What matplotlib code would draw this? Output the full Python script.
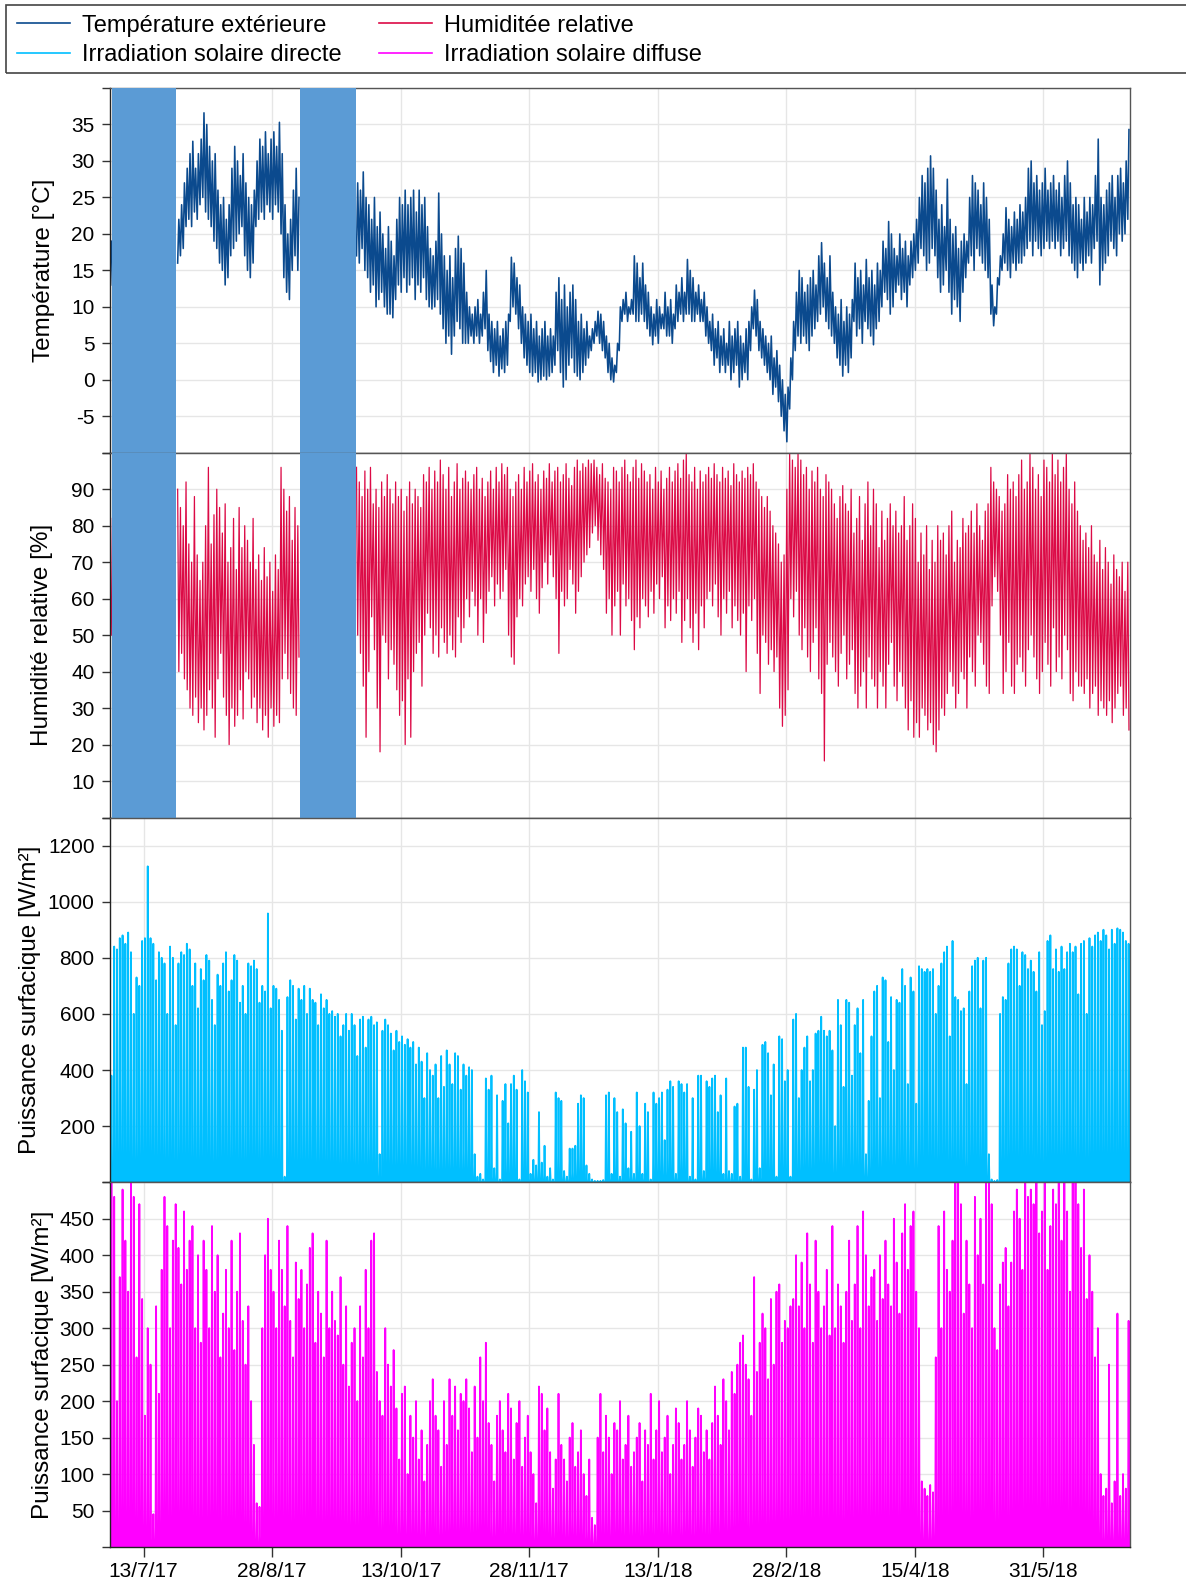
import numpy as np
import matplotlib
matplotlib.use("Agg")
import matplotlib.pyplot as plt
import matplotlib.dates as mdates
from matplotlib.patches import Rectangle
from datetime import datetime

# ---------------- DATA ----------------
start_date = "2017-07-01"
n_days = 365

tick_dates = ["2017-07-13", "2017-08-28", "2017-10-13", "2017-11-28",
              "2018-01-13", "2018-02-28", "2018-04-15", "2018-05-31"]
tick_labels = ["13/7/17", "28/8/17", "13/10/17", "28/11/17",
               "13/1/18", "28/2/18", "15/4/18", "31/5/18"]

# missing-data periods (shaded), in days since start_date
gap_start = [0.55, 68.0]
gap_end = [23.6, 88.0]

# Temperature [°C] : daily min / max, by segment (start day)
temp_seg_start = [0, 24, 88]
temp_max = [
    [19],
    [22, 24, 27, 29, 31, 32.7, 29, 31, 33, 36.6, 35, 32, 30, 31, 26, 24, 25, 22, 24, 29,
     32, 30, 28, 31, 27, 25, 24, 26, 30, 33, 32, 34, 31, 33, 34, 32, 35.3, 31, 24, 20,
     22, 26, 29, 25],
    [27, 26, 28.5, 25, 24, 22, 25, 21, 23, 20,
     18, 21, 19, 17, 22, 25, 24, 26, 24, 25,
     26, 23, 26, 24, 25, 21, 18, 17, 19, 25.6,
     20, 17, 15, 17, 14, 18, 19.7, 18, 16, 12,
     10, 9, 10, 11, 9, 12, 15, 9, 8, 7,
     8, 6, 7, 8, 9, 16.8, 16, 14, 13, 10,
     9, 8, 9, 7, 8, 6, 7, 8, 6, 7,
     6, 12, 14, 11, 13, 10, 12, 13, 11, 8,
     9, 7, 8, 6, 7, 8, 9.4, 9, 8, 6,
     5, 3, 2, 5, 10, 11, 12, 10, 11, 17,
     16, 14, 16, 13, 12, 10, 9, 11, 10, 9,
     12, 10, 11, 9, 13, 12, 14, 12, 16.5, 15,
     14, 12, 13, 11, 12, 10, 8, 9, 7, 8,
     6, 7, 5, 8, 6, 7, 8, 6, 5, 7,
     8, 10, 12.3, 11, 8, 7, 6, 5, 6, 3,
     4, 2, 0, -2, -1, 3, 8, 12, 15, 14,
     12, 13, 14, 15, 13, 17, 18.8, 16, 14, 17,
     12, 10, 9, 11, 8, 10, 9, 11, 16, 14,
     15, 13, 16.5, 14, 15, 13, 16, 15, 19, 18,
     21.7, 20, 18, 17, 20, 18, 19, 17, 19, 20,
     22, 25, 28, 27, 29, 30.7, 29, 26, 22, 24,
     21, 27.5, 22, 20, 21, 18, 19, 20, 19, 25,
     28, 27, 26, 24, 27, 25, 22, 13, 10, 14,
     17, 20, 23.6, 22, 21, 23, 22, 24, 23, 25,
     29, 30, 27, 28, 26, 27, 29, 26, 27, 28,
     26, 27, 25, 28, 30, 27, 24, 25, 24, 22,
     25, 23, 25, 24, 28, 33, 25, 24, 26, 27,
     28, 25, 28, 29, 27, 30, 34.3],
]
temp_min = [
    [13],
    [16, 17, 18, 21, 22, 21, 23, 22, 24, 25, 23, 22, 21, 19, 18, 16, 15, 13, 14, 17,
     18, 19, 20, 21, 17, 15, 14, 16, 21, 22, 23, 22, 24, 23, 22, 24, 23, 20, 14, 12,
     11, 15, 17, 15],
    [17, 16, 18, 15, 14, 12, 13, 10, 11, 12,
     10, 9, 9, 8.5, 11, 13, 12, 14, 12, 13,
     14, 11, 13, 12, 14, 11, 10, 9.7, 10, 11,
     9, 7, 5, 6, 3.5, 6, 8, 7, 5, 5,
     5, 6, 5, 6, 5, 6, 7, 4, 2.5, 1,
     2, 0.5, 1.5, 1, 2, 8, 10, 9, 7, 5,
     3, 2, 1, 0.5, 1, -0.3, 0, 0.5, 0, 0.5,
     1, 2, 4, 1, -1, 0, 2, 3, 1, 0.5,
     0, 1, 2, 3, 4, 5, 6, 5, 4, 3,
     1, 0, -0.3, 1, 4, 8, 9, 8, 9, 9,
     8, 8, 9, 8, 7, 6, 4.8, 6, 5, 7,
     7, 6, 6, 5, 7, 8, 9, 8, 9, 9,
     8, 8, 9, 8, 8, 6, 5, 4, 2, 3,
     1, 2, 1, 2, 0, 1, 2, -1, 0, 1,
     0, 4, 7, 6, 4, 3, 2, 1, 0, -2,
     -1, -3, -5, -7, -8.5, -4, 0, 4, 6, 5,
     6, 5, 4, 6, 7, 8, 9, 10, 8, 7,
     6, 5, 3, 2, 0.5, 2, 1, 3, 8, 6,
     7, 5, 8, 7, 6, 4.8, 7, 8, 10, 12,
     11, 9, 10, 12, 13, 11, 12, 10, 13, 14,
     15, 16, 18, 17, 15, 16, 18, 17, 14, 12,
     13, 15, 12, 9, 11, 10, 8, 12, 14, 16,
     17, 15, 18, 17, 16, 15, 14, 9, 7.4, 9,
     13, 15, 16, 15, 14, 16, 15, 16, 16, 17,
     18, 19, 17, 19, 18, 17, 18, 19, 18, 19,
     18, 19, 17, 18, 19, 17, 16, 15, 14, 16,
     15, 16, 17, 16, 18, 19, 13, 15, 16, 17,
     19, 18, 17, 20, 19, 20, 22],
]

# Relative humidity [%] : daily max / min, by segment
rh_seg_start = [0, 24, 88]
rh_max = [
    [82],
    [90, 85, 80, 92, 75, 70, 88, 72, 65, 70, 80, 96, 75, 83, 90, 85, 78, 86, 70, 74,
     82, 68, 85, 74, 80, 76, 70, 82, 68, 72, 65, 74, 66, 70, 62, 72, 68, 96, 90, 84,
     88, 76, 85, 80],
    [96, 92, 88, 95, 90, 96, 86, 90, 85, 92,
     88, 94, 90, 86, 92, 88, 90, 84, 88, 92,
     86, 90, 88, 85, 94, 92, 96, 90, 95, 92,
     98, 94, 90, 96, 88, 92, 97, 90, 93, 95,
     92, 90, 94, 96, 90, 93, 88, 92, 95, 90,
     96, 92, 97, 94, 96, 90, 88, 92, 94, 90,
     96, 92, 95, 97, 92, 94, 90, 95, 93, 97,
     92, 95, 96, 92, 94, 97, 93, 91, 96, 98,
     95, 97, 96, 98, 97, 98, 96, 94, 97, 93,
     92, 90, 96, 95, 92, 96, 98, 94, 92, 96,
     98, 93, 97, 95, 92, 94, 90, 96, 92, 95,
     90, 93, 96, 92, 95, 97, 93, 98, 100, 94,
     92, 96, 90, 95, 92, 94, 96, 93, 97, 94,
     92, 96, 93, 95, 91, 97, 94, 92, 95, 93,
     96, 94, 97, 92, 90, 88, 85, 88, 84, 80,
     78, 75, 70, 72, 90, 100, 98, 96, 100, 98,
     94, 96, 90, 95, 92, 96, 90, 88, 94, 92,
     90, 86, 82, 88, 91, 86, 84, 90, 78, 82,
     88, 76, 86, 92, 80, 90, 86, 74, 84, 76,
     82, 86, 80, 84, 78, 80, 88, 76, 80, 86,
     82, 70, 78, 72, 80, 68, 76, 70, 80, 76,
     78, 72, 80, 84, 70, 76, 74, 82, 78, 80,
     84, 78, 86, 80, 76, 84, 86, 96, 92, 90,
     88, 84, 86, 94, 90, 92, 88, 94, 98, 90,
     92, 100, 96, 90, 94, 88, 98, 96, 92, 100,
     94, 98, 92, 96, 100, 90, 86, 92, 84, 80,
     76, 78, 74, 80, 72, 70, 76, 68, 74, 70,
     64, 72, 68, 66, 70, 62, 70],
]
rh_min = [
    [50],
    [40, 45, 38, 35, 30, 28, 33, 26, 30, 24, 28, 35, 30, 22, 38, 45, 33, 28, 20, 30,
     25, 28, 35, 27, 40, 38, 30, 33, 26, 30, 24, 28, 22, 30, 25, 28, 26, 38, 45, 38,
     34, 30, 28, 44],
    [50, 45, 36, 22, 40, 55, 46, 30, 18, 50,
     48, 38, 46, 42, 35, 28, 32, 20, 38, 22,
     40, 45, 48, 36, 50, 56, 52, 45, 50, 44,
     52, 48, 45, 50, 46, 44, 55, 48, 52, 60,
     55, 62, 58, 50, 60, 48, 56, 62, 66, 58,
     64, 60, 62, 68, 50, 44, 42, 55, 60, 58,
     64, 66, 62, 68, 60, 56, 63, 70, 64, 72,
     66, 60, 45, 62, 58, 60, 68, 64, 56, 62,
     66, 70, 72, 74, 78, 80, 76, 72, 68, 56,
     60, 50, 58, 62, 50, 64, 58, 60, 54, 46,
     55, 52, 60, 58, 55, 62, 56, 64, 60, 66,
     52, 58, 54, 60, 56, 62, 48, 54, 60, 52,
     48, 56, 46, 58, 52, 60, 62, 58, 64, 55,
     50, 60, 56, 62, 52, 58, 54, 50, 56, 40,
     58, 54, 60, 45, 34, 50, 48, 42, 46, 40,
     44, 30, 25, 28, 35, 60, 55, 62, 50, 46,
     52, 44, 40, 48, 52, 38, 34, 15.5, 42, 48,
     44, 40, 36, 45, 50, 38, 42, 46, 34, 30,
     36, 40, 30, 44, 38, 36, 30, 40, 36, 30,
     42, 48, 36, 32, 40, 36, 30, 24, 32, 22,
     26, 22, 30, 28, 24, 26, 20, 18, 24, 30,
     28, 34, 40, 36, 30, 34, 40, 38, 30, 44,
     40, 36, 50, 48, 42, 36, 34, 58, 66, 62,
     50, 34, 40, 48, 36, 34, 42, 44, 40, 36,
     46, 50, 44, 38, 34, 40, 48, 42, 36, 52,
     40, 44, 38, 50, 46, 34, 32, 40, 36, 36,
     34, 38, 30, 34, 36, 28, 32, 30, 28, 32,
     26, 30, 34, 36, 28, 30, 24],
]

# Direct solar irradiation : daily peak [W/m²], day 0 .. 364
direct_peak = [
    380, 840, 830, 870, 880, 850, 890, 820, 600, 730, 700, 860, 870, 1126,
    870, 850, 720, 820, 800, 780, 600, 840, 800, 560, 780, 820, 810, 850, 830, 700,
    780, 620, 760, 720, 810, 790, 650, 560, 740, 700, 780, 820, 680, 720, 810, 790,
    640, 700, 600, 780, 770, 790, 760, 640, 700, 680, 958,
    620, 700, 690, 650, 540,
    20,
    660, 720, 700, 580, 690, 650, 700, 600, 690, 650, 640, 560, 670, 620, 650, 600, 610, 590,
    600, 520, 560, 600, 540, 600, 560, 450, 580, 590, 480, 580, 590, 560, 570, 100,
    540, 580, 560, 530, 470, 540, 500, 520,
    490, 510, 480, 500, 420, 480, 430, 300, 460, 400, 380, 420, 300,
    450, 340, 470, 420, 350, 460, 450, 330, 420, 380, 410, 400, 100, 20, 30, 10,
    370, 330, 380, 50, 310, 10, 290, 350, 210, 350, 380, 330, 10, 400, 360, 320, 30,
    80, 60, 250, 70, 130, 20, 50, 10,
    320, 300, 290, 40, 20, 120, 120, 130, 280, 310, 300,
    60, 30, 10, 5, 5, 5, 8,
    310, 320, 30, 300, 250, 20, 260, 210, 50, 180, 30, 320, 200, 30, 280, 250, 10, 320,
    280, 300, 320, 150, 330, 360, 340, 30, 360, 350, 320, 350, 20, 300, 10, 380, 380,
    40, 360, 340, 370, 380, 250, 310, 30, 370, 40,
    30, 270, 280, 20, 480, 480, 340, 10, 330, 400, 50, 490, 500, 460, 310, 420, 20,
    520, 510, 360, 400, 20,
    580, 600, 300, 400, 480, 520, 360, 400, 530, 540, 590, 540,
    520, 540, 470, 200, 650, 560, 340, 650, 640, 380, 560, 620, 460, 650,
    100, 290, 520, 680, 700, 300, 730, 720, 500, 660, 400, 650, 640, 760, 700, 350, 730, 680,
    280, 770, 760, 750, 760, 750, 760, 600, 700, 780, 820, 840, 520, 860, 660, 650, 610,
    620, 350, 680, 770, 790, 800, 620, 790, 800, 100, 10, 5,
    8, 600, 660, 650, 780, 830, 840, 830, 700, 820, 810, 760, 790, 750, 680, 820, 560, 610, 860,
    880, 760, 830, 750, 840, 760, 820, 850, 820, 840, 670, 850, 860, 600, 870, 840, 880,
    890, 860, 900, 880, 830, 900, 850, 905, 900, 890, 860, 850,
]

# Diffuse solar irradiation : daily peak [W/m²], day 0 .. 364
diffuse_peak = [
    499, 480, 200, 370, 490, 420, 350, 500, 480, 260, 470,
    340, 180, 300, 250, 45, 330, 210,
    380, 480, 440, 300, 420, 470, 410, 360, 460, 380, 420, 440, 300, 400, 280,
    420, 380, 300, 440, 350, 400, 260, 320, 380, 300, 420, 270, 350, 430, 310, 250, 330, 200, 140,
    60, 55,
    300, 400, 450, 380, 350, 300, 420, 380, 330, 440, 310, 260, 390, 340, 380, 300, 360,
    410, 430, 280, 350, 320, 260, 420, 300, 350,
    310, 290, 370, 250, 330, 220, 280, 300, 200, 330, 260, 380, 300, 420, 430, 240, 200,
    180, 300, 250, 220,
    270, 190, 120, 210, 220, 100, 180, 150, 200, 120, 160, 90, 140, 200, 230, 180, 160,
    110, 200, 140, 230,
    180, 220, 160, 210, 200, 230, 190, 130, 220, 150, 260, 200, 280, 170, 140, 90, 180,
    200, 160, 130, 210, 190, 120, 170, 200, 110, 150, 180, 130, 100, 60, 220, 210, 160,
    190, 130, 80, 120, 210, 140, 120, 90, 150, 170, 110, 130, 160, 100, 70, 120,
    40, 30, 150, 210, 130, 180, 150, 100, 170, 160, 200, 120, 140, 180, 110, 130, 150,
    170, 90, 160, 140, 210, 120, 160, 200, 130, 150, 180, 100, 140, 190, 170, 120, 140,
    200, 160, 110, 150, 190, 180, 130, 160,
    120, 170, 220, 180, 140, 230, 200, 160, 240, 210, 250, 280,
    290, 250, 230, 180, 370, 240, 280, 320, 300, 230, 340, 250, 350, 360, 280, 310, 300, 330,
    340, 400, 330, 390, 300, 430, 360, 280, 420, 350, 300, 330, 380, 290, 440, 300, 360,
    330, 280, 350,
    420, 310, 360, 440, 300, 460, 400, 330, 370, 380, 310, 400, 340, 420, 360, 330, 450,
    390, 320, 430, 470, 380, 440, 460, 350, 300,
    90, 80, 70, 85, 75,
    260, 440, 300, 460, 380, 350, 420, 500, 500, 470, 320, 420, 360, 300, 480, 400, 450,
    360, 500, 500, 470, 300, 270, 360, 390, 410, 330, 390, 460,
    490, 450, 380, 500, 480, 490, 470, 500, 430, 460, 500, 380, 440, 490, 470, 500, 420,
    500, 460, 350, 500, 500, 470, 410, 490, 340, 400, 350, 260,
    300, 100, 70, 80, 250, 60, 90, 320, 70, 100, 80, 310,
]

legend_labels = ["Température extérieure", "Irradiation solaire directe",
                 "Humiditée relative", "Irradiation solaire diffuse"]
ylabels = ["Température [°C]", "Humidité relative [%]",
           "Puissance surfacique [W/m²]", "Puissance surfacique [W/m²]"]

# ---------------- STYLE ----------------
C_TEMP = "#0B4A8E"
C_RH = "#DC0A46"
C_DIR = "#00BFFF"
C_DIF = "#FF00FF"
C_GAP = "#5B9BD5"
C_GRID = "#E6E6E6"

plt.rcParams["font.family"] = ["Liberation Sans", "DejaVu Sans"]

W, H = 1186, 1584
fig = plt.figure(figsize=(W / 100, H / 100), dpi=100)

x0 = mdates.date2num(datetime.strptime(start_date, "%Y-%m-%d"))
left_px, right_px, top_px, bot_px = 110, 1130, 88, 1547
ph = (bot_px - top_px) / 4.0

axes = []
for i in range(4):
    y_top = top_px + i * ph
    ax = fig.add_axes([left_px / W, 1 - (y_top + ph) / H, (right_px - left_px) / W, ph / H])
    axes.append(ax)


def daily_pair_path(seg_start, first_vals, second_vals, t1, t2):
    days = seg_start + np.arange(len(first_vals))
    xs = np.empty(2 * len(days))
    ys = np.empty(2 * len(days))
    xs[0::2] = days + t1
    xs[1::2] = days + t2
    ys[0::2] = first_vals
    ys[1::2] = second_vals
    return x0 + xs, ys


def spike_path(peaks):
    days = np.arange(len(peaks))
    xs = np.empty(3 * len(days))
    ys = np.zeros(3 * len(days))
    xs[0::3] = days + 0.30
    xs[1::3] = days + 0.50
    xs[2::3] = days + 0.70
    ys[1::3] = peaks
    return x0 + xs, ys


# Temperature
for s, mn, mx in zip(temp_seg_start, temp_min, temp_max):
    xs, ys = daily_pair_path(s, mn, mx, 0.21, 0.63)
    axes[0].plot(xs, ys, color=C_TEMP, lw=1.15, zorder=2)
# Humidity
for s, mx, mn in zip(rh_seg_start, rh_max, rh_min):
    xs, ys = daily_pair_path(s, mx, mn, 0.21, 0.63)
    axes[1].plot(xs, ys, color=C_RH, lw=0.9, zorder=2)
# Direct
xs, ys = spike_path(direct_peak)
axes[2].plot(xs, ys, color=C_DIR, lw=1.3, zorder=2)
# Diffuse
xs, ys = spike_path(diffuse_peak)
axes[3].plot(xs, ys, color=C_DIF, lw=1.3, zorder=2)

# gap shading in top two panels
for ax in axes[:2]:
    for a, b in zip(gap_start, gap_end):
        ax.axvspan(x0 + a, x0 + b, color=C_GAP, lw=0, zorder=3)

ylims = [(-10, 40), (0, 100), (0, 1300), (0, 500)]
yticks = [np.arange(-10, 41, 5), np.arange(0, 101, 10),
          np.array([0, 200, 400, 600, 800, 1000, 1200, 1300]), np.arange(0, 501, 50)]
hidden = [(-10, 40), (0, 100), (0, 1300), (0, 500)]
label_x = [-0.054, -0.056, -0.068, -0.055]

xt = [x0 + (datetime.strptime(d, "%Y-%m-%d") - datetime.strptime(start_date, "%Y-%m-%d")).days
      for d in tick_dates]

for i, ax in enumerate(axes):
    ax.set_xlim(x0, x0 + n_days)
    ax.set_ylim(*ylims[i])
    ax.set_yticks(yticks[i])
    ax.set_yticklabels(["" if v in hidden[i] else str(int(v)) for v in yticks[i]])
    ax.set_xticks(xt)
    ax.grid(True, color=C_GRID, lw=1.0, zorder=0)
    ax.set_axisbelow(True)
    ax.tick_params(axis="y", direction="out", length=6, width=1, colors="#333333",
                   labelsize=15, pad=5, labelcolor="black")
    if i == 3:
        ax.set_xticklabels(tick_labels)
        ax.tick_params(axis="x", direction="out", length=7, width=1, colors="#333333",
                       labelsize=15, pad=4, labelcolor="black")
    else:
        ax.set_xticklabels([])
        ax.tick_params(axis="x", length=0)
    for side, sp in ax.spines.items():
        sp.set_color("#222222" if side in ("left", "bottom") else "#555555")
        sp.set_linewidth(1.0)
    ax.set_ylabel(ylabels[i], fontsize=17.5)
    ax.yaxis.set_label_coords(label_x[i], 0.5)

# legend
handles = [plt.Line2D([], [], color=c, lw=1.2) for c in (C_TEMP, C_DIR, C_RH, C_DIF)]
fig.legend(handles, legend_labels, ncol=2, frameon=False, fontsize=17,
           loc="upper left", bbox_to_anchor=(12 / W, 1 - 10 / H),
           handlelength=2.25, handletextpad=0.5, columnspacing=1.6,
           labelspacing=0.3, borderaxespad=0, borderpad=0.2)
fig.patches.append(Rectangle((6 / W, 1 - 73 / H), 1185 / W, 68 / H,
                             transform=fig.transFigure, fill=False,
                             edgecolor="#444444", lw=1.2))

fig.savefig("out.png", dpi=100)
